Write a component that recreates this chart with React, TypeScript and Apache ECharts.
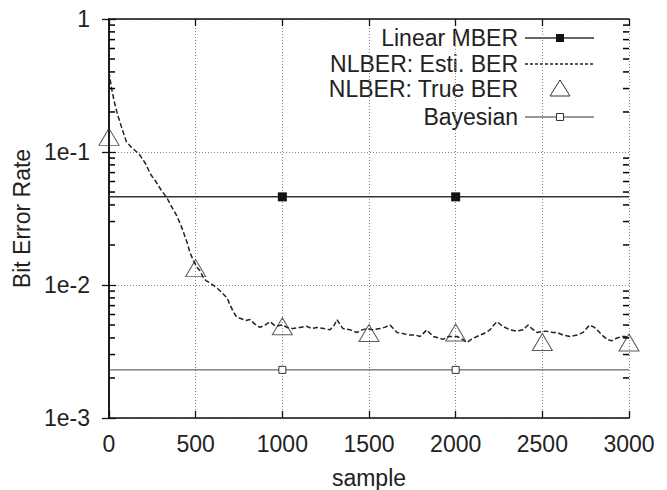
import React, { useEffect, useRef } from "react";
import * as echarts from "echarts";

const yTickLabels: Record<string, string> = { "0": "1", "-1": "1e-1", "-2": "1e-2", "-3": "1e-3" };

const linearMberSamples = [0, 1000, 2000, 3000];
const linearMberValue = 0.046;
const bayesianValue = 0.0023;

const trueBerSamples = [0, 500, 1000, 1500, 2000, 2500, 3000];
const trueBerValues = [0.13, 0.0134, 0.0049, 0.00435, 0.0044, 0.00373, 0.0037];

const estiSamples = [
  0, 15, 30, 50, 75, 100, 130, 160, 180, 210, 240, 270, 300, 335, 360, 392, 420, 450, 467, 490,
  510, 525, 542, 560, 580, 600, 623, 650, 681, 700, 720, 738, 760, 790, 813, 840, 871, 900, 929, 960,
  1000, 1027, 1060, 1102, 1140, 1170, 1200, 1240, 1275, 1300, 1315, 1335, 1350, 1390, 1431, 1460, 1488, 1520, 1563, 1590,
  1621, 1640, 1662, 1700, 1737, 1770, 1794, 1834, 1869, 1900, 1927, 1960, 2008, 2040, 2066, 2090, 2123, 2160, 2198, 2220,
  2239, 2270, 2314, 2350, 2389, 2418, 2440, 2470, 2520, 2560, 2585, 2620, 2660, 2700, 2735, 2760, 2775, 2800, 2816, 2845,
  2873, 2900, 2931, 2960, 2977, 3000,
];
const estiValues = [
  0.4, 0.3, 0.24, 0.19, 0.15, 0.12, 0.108, 0.1, 0.094, 0.082, 0.068, 0.06, 0.052, 0.045, 0.039, 0.033, 0.027, 0.021, 0.0175, 0.015,
  0.0135, 0.0128, 0.0115, 0.0108, 0.0104, 0.01, 0.0095, 0.0088, 0.008, 0.007, 0.0062, 0.0057, 0.0056, 0.0054, 0.0055, 0.0051, 0.0048, 0.005, 0.0053, 0.0049,
  0.005, 0.0048, 0.0047, 0.0048, 0.0049, 0.0047, 0.0048, 0.0047, 0.0046, 0.005, 0.0055, 0.005, 0.0047, 0.0046, 0.0044, 0.0046, 0.0047, 0.0046, 0.0047, 0.0048,
  0.005, 0.0047, 0.0044, 0.0043, 0.0042, 0.0042, 0.0041, 0.0046, 0.0041, 0.004, 0.0039, 0.0041, 0.0041, 0.0039, 0.0037, 0.0039, 0.0041, 0.0043, 0.0046, 0.005,
  0.0053, 0.0049, 0.0046, 0.0045, 0.0046, 0.005, 0.0047, 0.0044, 0.0045, 0.0044, 0.0044, 0.0042, 0.0041, 0.0042, 0.0044, 0.0048, 0.005, 0.0048, 0.0046, 0.0042,
  0.0039, 0.0038, 0.004, 0.0041, 0.0041, 0.004,
];

const minorTickValues: number[] = [];
[0.001, 0.01, 0.1].forEach((d) => {
  for (let k = 2; k <= 9; k++) minorTickValues.push(d * k);
});

const legendNames = ["Linear MBER", "NLBER: Esti. BER", "NLBER: True BER", "Bayesian"];

const FONT = "'Liberation Sans', Arial, Helvetica, sans-serif";
const FS = 23;

export default function App() {
  const ref = useRef<HTMLDivElement>(null);
  useEffect(() => {
    if (!ref.current) return;
    const chart = echarts.init(ref.current, null, { renderer: "svg" });
    const gridLeft = 109, gridTop = 19, gridRight = 38, gridBottom = 72;

    const xBase = { type: "value" as const, min: 0, max: 3000, interval: 500 };
    const yBase = { type: "log" as const, logBase: 10, min: 0.001, max: 1 };

    const legendX = 518;
    const legendYs = [38, 64, 89, 117];
    const lineX1 = 525, lineX2 = 594, markX = 560;

    const graphic: any[] = [];
    legendNames.forEach((n, i) => {
      graphic.push({
        type: "text",
        x: legendX,
        y: legendYs[i],
        style: { text: n, textAlign: "right", textVerticalAlign: "middle", font: `${FS}px ${FONT}`, fill: "#222" },
      });
    });
    graphic.push({ type: "line", shape: { x1: lineX1, y1: legendYs[0], x2: lineX2, y2: legendYs[0] }, style: { stroke: "#333", lineWidth: 1.5 } });
    graphic.push({ type: "rect", shape: { x: markX - 4, y: legendYs[0] - 4, width: 8, height: 8 }, style: { fill: "#111" } });
    graphic.push({ type: "line", shape: { x1: lineX1, y1: legendYs[1], x2: lineX2, y2: legendYs[1] }, style: { stroke: "#222", lineWidth: 1.3, lineDash: [3, 2] } });
    graphic.push({
      type: "polygon",
      shape: { points: [[markX, legendYs[2] - 9], [markX + 10, legendYs[2] + 7], [markX - 10, legendYs[2] + 7]] },
      style: { fill: "none", stroke: "#333", lineWidth: 1 },
    });
    graphic.push({ type: "line", shape: { x1: lineX1, y1: legendYs[3], x2: lineX2, y2: legendYs[3] }, style: { stroke: "#333", lineWidth: 1 } });
    graphic.push({ type: "rect", shape: { x: markX - 3.5, y: legendYs[3] - 3.5, width: 7, height: 7 }, style: { fill: "#fff", stroke: "#333", lineWidth: 1 } });

    const minorTickSeries = (x: number, off: number) => ({
      type: "scatter",
      silent: true,
      clip: false,
      data: minorTickValues.map((v) => [x, v]),
      symbol: "rect",
      symbolSize: [6, 1.5],
      symbolOffset: [off, 0],
      itemStyle: { color: "#000", opacity: 1 },
      z: 6,
    });

    const option: any = {
      animation: false,
      backgroundColor: "#fff",
      grid: { left: gridLeft, top: gridTop, right: gridRight, bottom: gridBottom, show: false, containLabel: false, outerBoundsMode: "none" },
      xAxis: [
        {
          ...xBase,
          position: "bottom",
          name: "sample",
          nameLocation: "middle",
          nameGap: 48,
          nameTextStyle: { fontFamily: FONT, fontSize: FS, color: "#222" },
          axisLine: { show: true, lineStyle: { color: "#111", width: 1.5 } },
          axisTick: { show: true, inside: true, length: 7, lineStyle: { color: "#111", width: 1.3 } },
          axisLabel: { fontFamily: FONT, fontSize: FS, color: "#222", margin: 14, formatter: (v: number) => String(v) },
          splitLine: { show: true, lineStyle: { color: "#888", width: 1, type: [1, 2] } },
        },
        {
          ...xBase,
          position: "top",
          axisLine: { show: true, lineStyle: { color: "#111", width: 1.5 } },
          axisTick: { show: true, inside: true, length: 7, lineStyle: { color: "#111", width: 1.3 } },
          axisLabel: { show: false },
          splitLine: { show: false },
        },
      ],
      yAxis: [
        {
          ...yBase,
          position: "left",
          name: "Bit Error Rate",
          nameLocation: "middle",
          nameGap: 75,
          nameTextStyle: { fontFamily: FONT, fontSize: FS, color: "#222" },
          axisLine: { show: true, lineStyle: { color: "#111", width: 1.5 } },
          axisTick: { show: true, inside: true, length: 7, lineStyle: { color: "#111", width: 1.3 } },
          axisLabel: {
            fontFamily: FONT,
            fontSize: FS,
            color: "#222",
            margin: 19,
            formatter: (v: number) => yTickLabels[String(Math.round(Math.log10(v)))] ?? "",
          },
          splitLine: { show: true, lineStyle: { color: "#888", width: 1, type: [1, 2] } },
        },
        {
          ...yBase,
          position: "right",
          axisLine: { show: true, lineStyle: { color: "#111", width: 1.5 } },
          axisTick: { show: true, inside: true, length: 7, lineStyle: { color: "#111", width: 1.3 } },
          axisLabel: { show: false },
          splitLine: { show: false },
        },
      ],
      graphic,
      series: [
        minorTickSeries(0, 3),
        minorTickSeries(3000, -3),
        {
          name: legendNames[0],
          type: "line",
          data: linearMberSamples.map((s, i) => ({
            value: [s, linearMberValue],
            symbol: i === 0 || i === linearMberSamples.length - 1 ? "none" : "rect",
          })),
          symbolSize: 9,
          itemStyle: { color: "#111" },
          lineStyle: { color: "#333", width: 1.5 },
          z: 3,
        },
        {
          name: legendNames[3],
          type: "line",
          data: linearMberSamples.map((s, i) => ({
            value: [s, bayesianValue],
            symbol: i === 0 || i === linearMberSamples.length - 1 ? "none" : "rect",
          })),
          symbolSize: 7,
          itemStyle: { color: "#fff", borderColor: "#333", borderWidth: 1 },
          lineStyle: { color: "#444", width: 1 },
          z: 3,
        },
        {
          name: legendNames[1],
          type: "line",
          data: estiSamples.map((s, i) => [s, estiValues[i]]),
          showSymbol: false,
          symbol: "none",
          lineStyle: { color: "#222", width: 1.5, type: [5, 2.5] },
          z: 4,
        },
        {
          name: legendNames[2],
          type: "scatter",
          data: trueBerSamples.map((s, i) => [s, trueBerValues[i]]),
          symbol: "triangle",
          symbolSize: [20, 17],
          itemStyle: { color: "rgba(255,255,255,0)", borderColor: "#333", borderWidth: 1 },
          z: 5,
        },
      ],
    };
    chart.setOption(option);
    return () => chart.dispose();
  }, []);
  return <div ref={ref} style={{ width: 667, height: 490, position: "absolute", left: 0, top: 0 }} />;
}
